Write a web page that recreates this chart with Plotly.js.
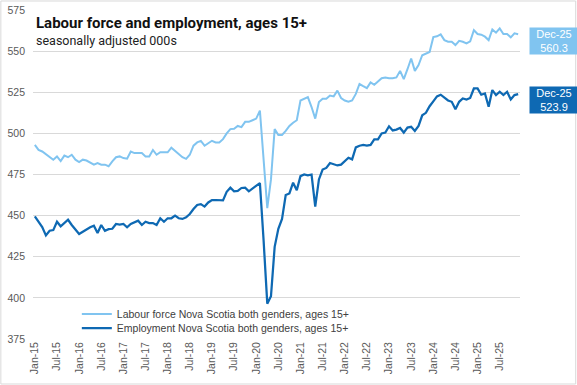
<!DOCTYPE html>
<html><head><meta charset="utf-8">
<script src="https://cdn.plot.ly/plotly-3.0.1.min.js"></script>
<style>html,body{margin:0;padding:0;background:#fff}#chart{width:577px;height:385px}</style>
</head><body><div id="chart"></div>
<script>
// Monthly, Jan-15 .. Dec-25 (thousands, seasonally adjusted)
const labourForce = [
 493,490,489,487.5,485.5,484,486,483.2,486.5,485.5,487,484,
 482.6,484,483.5,482,481,482,481,481,480,483,485.5,486,
 485,484.6,489,488,488,488,486,486,489.9,487,488.5,488.5,
 488.5,491.3,489.5,487.5,485.5,484.5,487,492.5,494.5,495.4,492.5,494,
 495.5,494.5,494.5,496.5,500,502.6,502.8,504.5,503.8,507,507,508,
 509,513.8,484,454.6,472,502.6,499,499,501.5,504.5,506.5,508,
 520,521,522,516,509,519,521,521,523,522.5,526,521.5,
 520,519.3,520,524,530,528.7,527.5,531,529.5,531.5,533.5,534,
 533.5,533.5,534,538,533,539,545.5,538,541.5,547.5,548.5,549.5,
 558.5,559,560.2,556.7,555.7,555.7,553.7,556.3,555.7,554.7,556,562.8,
 560.4,560,558.8,556.7,563.2,561.2,563.8,560.4,560.4,558.4,560.8,560.3
];
const employment = [
 449.6,446,443,438,440.8,441.2,446.3,443.5,445.5,447.5,444.3,441.4,
 438.8,440.2,441.8,442.9,443.9,439.4,444.3,440.8,441.8,442,444.9,444.5,
 444.9,442.9,444.9,445.9,446.9,444.3,446.3,445.5,445.5,444.3,448.4,446.3,
 448.4,448.4,450,448.4,448,449,451,454,456.5,457,455.5,458,
 459.5,459.5,459.5,459.3,464.5,467,464.8,465,466.8,467,464.8,466.5,
 468,469.8,435,396.5,401,431,442,448,462.5,463.5,470,465.5,
 474,475,474.5,475,455.5,472,478,479,482,481,480.5,481,
 483,485.2,484.2,491.5,492.5,493,492.5,493,496.4,496.4,500,500.5,
 504.3,501.8,502.3,503.3,500.5,503.5,504,501.5,504.5,511,512.5,516.5,
 519.5,522.5,523.5,521.5,520,519.2,514.6,519.2,521.2,520.6,521.5,527.3,
 527.3,523.5,524.3,516.2,526.3,523.3,525.3,523.3,525.3,520.6,523.3,523.9
];
const tickLabels = ["Jan-15","Jul-15","Jan-16","Jul-16","Jan-17","Jul-17","Jan-18","Jul-18",
 "Jan-19","Jul-19","Jan-20","Jul-20","Jan-21","Jul-21","Jan-22","Jul-22",
 "Jan-23","Jul-23","Jan-24","Jul-24","Jan-25","Jul-25"];
const seriesNames = ["Labour force Nova Scotia both genders, ages 15+",
                     "Employment Nova Scotia both genders, ages 15+"];
const lastPeriod = "Dec-25";
const titleText = "Labour force and employment, ages 15+";
const subtitleText = "seasonally adjusted 000s";

const lightBlue = "#80C4F0", darkBlue = "#0E69B3";
const months = labourForce.map((_, i) => i);
const tickVals = tickLabels.map((_, k) => k * 6);
const txtFont = "Liberation Sans, Arial, sans-serif";

const traces = [
  {x: months, y: labourForce, name: seriesNames[0], type: "scatter", mode: "lines",
   line: {color: lightBlue, width: 2}, legend: "legend"},
  {x: months, y: employment, name: seriesNames[1], type: "scatter", mode: "lines",
   line: {color: darkBlue, width: 2.25}, legend: "legend2"}
];

const lastLF = labourForce[labourForce.length - 1];
const lastEmp = employment[employment.length - 1];
const n = months.length;

const layout = {
  width: 577, height: 385,
  margin: {l: 33, r: 57, t: 10, b: 46},
  paper_bgcolor: "#fff", plot_bgcolor: "#fff",
  showlegend: true,
  xaxis: {range: [-0.5, n - 0.5], tickvals: tickVals, ticktext: tickLabels,
    tickangle: -90, showgrid: false, zeroline: false, showline: false, ticks: "",
    tickfont: {family: txtFont, size: 10.5, color: "#595959"}, fixedrange: true},
  yaxis: {range: [375, 575], dtick: 25, tick0: 375, showgrid: true, gridcolor: "#D9D9D9",
    gridwidth: 1, zeroline: false, showline: false, ticks: "",
    ticklabelstandoff: 7,
    tickfont: {family: txtFont, size: 10.5, color: "#595959"}, fixedrange: true},
  legend: {x: 0.09, y: 0.076, xanchor: "left", yanchor: "middle", bgcolor: "rgba(0,0,0,0)",
    font: {family: txtFont, size: 10.5, color: "#404040"}},
  legend2: {x: 0.09, y: 0.033, xanchor: "left", yanchor: "middle", bgcolor: "rgba(0,0,0,0)",
    font: {family: txtFont, size: 10.5, color: "#404040"}},
  annotations: [
    {xref: "paper", yref: "paper", x: 0.003, y: 0.995, xanchor: "left", yanchor: "top",
     text: "<b>" + titleText + "</b>", showarrow: false,
     font: {family: "Roboto, sans-serif", size: 15, color: "#111"}},
    {xref: "paper", yref: "paper", x: 0.003, y: 0.935, xanchor: "left", yanchor: "top",
     text: subtitleText, showarrow: false,
     font: {family: "Roboto, sans-serif", size: 12.5, color: "#222"}},
    {xref: "paper", yref: "y", x: 1.0185, y: lastLF, yshift: -7, xanchor: "left", yanchor: "middle",
     text: lastPeriod + "<br>" + lastLF.toFixed(1), showarrow: false, align: "center",
     width: 46, height: 24, borderpad: 1, bgcolor: lightBlue,
     font: {family: txtFont, size: 11, color: "#fff"}},
    {xref: "paper", yref: "y", x: 1.0185, y: lastEmp, yshift: -5.5, xanchor: "left", yanchor: "middle",
     text: lastPeriod + "<br>" + lastEmp.toFixed(1), showarrow: false, align: "center",
     width: 46, height: 24, borderpad: 1, bgcolor: darkBlue,
     font: {family: txtFont, size: 11, color: "#fff"}}
  ],
  shapes: [
    {type: "rect", xref: "paper", yref: "paper", x0: -0.066, x1: 1.1144, y0: -0.1368, y1: 1.0274,
     line: {color: "#D9D9D9", width: 1}, fillcolor: "rgba(0,0,0,0)", layer: "below"}
  ]
};

Plotly.newPlot("chart", traces, layout, {staticPlot: true, displayModeBar: false});
</script>
</body></html>
